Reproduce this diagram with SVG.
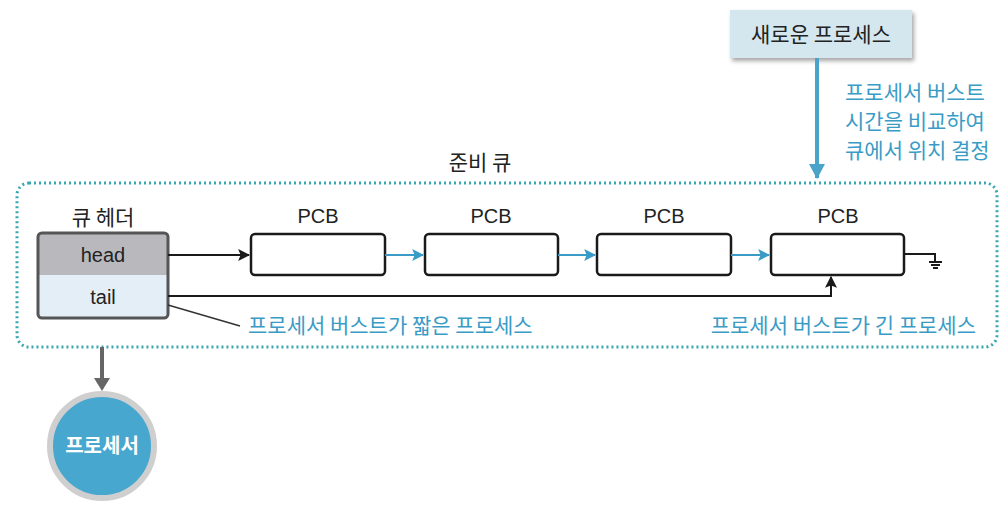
<svg xmlns="http://www.w3.org/2000/svg" width="1008" height="505" viewBox="0 0 1008 505">
<defs>
<style>
.t{font-family:"Noto Sans CJK KR","Noto Sans",sans-serif;}
.lab{font-family:"Liberation Sans","Noto Sans CJK KR",sans-serif;font-size:20px;fill:#222;text-anchor:middle;}
.blue{font-family:"Noto Sans CJK KR",sans-serif;font-size:21px;fill:#3a9cc6;}
.pcb{fill:#fff;stroke:#1a1a1a;stroke-width:2.5;}
.blk{stroke:#1a1a1a;stroke-width:2;fill:none;}
.bl{stroke:#3a9cc6;stroke-width:2;fill:none;}
</style>
<marker id="ab" viewBox="0 0 10 10" refX="9" refY="5" markerWidth="12" markerHeight="12" markerUnits="userSpaceOnUse" orient="auto"><path d="M0,0L10,5L0,10L2,5z" fill="#1a1a1a"/></marker>
<marker id="abl" viewBox="0 0 10 10" refX="9" refY="5" markerWidth="12" markerHeight="12" markerUnits="userSpaceOnUse" orient="auto"><path d="M0,0L10,5L0,10L2,5z" fill="#3a9cc6"/></marker>
<filter id="sh" x="-10%" y="-10%" width="130%" height="140%"><feDropShadow dx="2" dy="3" stdDeviation="2" flood-color="#000" flood-opacity="0.35"/></filter>
</defs>
<rect width="1008" height="505" fill="#fff"/>

<g id="ready-queue">
<rect x="17" y="183" width="980" height="164" rx="12" fill="none" stroke="#3aa7b0" stroke-width="3" stroke-dasharray="2 3"/>
<text class="t" x="480" y="170" font-size="21" fill="#222" text-anchor="middle">준비 큐</text>
</g>

<g id="new-process">
<rect x="730" y="10" width="182" height="48" fill="#d4e7ef" filter="url(#sh)"/>
<text class="t" x="821" y="42" font-size="21" fill="#222" text-anchor="middle">새로운 프로세스</text>
</g>

<g id="compare-label">
<text class="blue" x="845" y="100" font-size="20.5">프로세서 버스트</text>
<text class="blue" x="845" y="129" font-size="20.5">시간을 비교하여</text>
<text class="blue" x="845" y="158" font-size="20.5">큐에서 위치 결정</text>
</g>

<g id="queue-header">
<text class="t" x="103" y="225" font-size="21" fill="#222" text-anchor="middle">큐 헤더</text>
<rect x="38" y="233" width="130" height="85" rx="4" fill="#e3eef6"/>
<path d="M42,233H164a4,4 0 0 1 4,4V275H38V237a4,4 0 0 1 4,-4z" fill="#b9b9bd"/>
<rect x="38" y="233" width="130" height="85" rx="4" fill="none" stroke="#555" stroke-width="3"/>
<text class="lab" x="103" y="262">head</text>
<text class="lab" x="103" y="304">tail</text>
</g>

<g id="pcb1"><text class="lab" x="318" y="223">PCB</text><rect class="pcb" x="251" y="234" width="134" height="41" rx="4"/></g>
<g id="pcb2"><text class="lab" x="491" y="223">PCB</text><rect class="pcb" x="425" y="234" width="133" height="41" rx="4"/></g>
<g id="pcb3"><text class="lab" x="664" y="223">PCB</text><rect class="pcb" x="597" y="234" width="134" height="41" rx="4"/></g>
<g id="pcb4"><text class="lab" x="838" y="223">PCB</text><rect class="pcb" x="771" y="234" width="133" height="41" rx="4"/></g>

<g id="processor">
<circle cx="102" cy="446" r="52" fill="#47a7cf" stroke="#cfcfcf" stroke-width="6"/>
<text class="t" x="102" y="453" font-size="20" font-weight="bold" fill="#fff" text-anchor="middle">프로세서</text>
</g>

<g id="labels">
<text class="blue" x="248" y="333">프로세서 버스트가 짧은 프로세스</text>
<text class="blue" x="976" y="333" text-anchor="end">프로세서 버스트가 긴 프로세스</text>
</g>

<g id="connectors">
<line x1="817" y1="58" x2="817" y2="178" stroke="#4aa3c8" stroke-width="4"/>
<path d="M809,164L825,164L817,179z" fill="#4aa3c8"/>
<line class="blk" x1="168" y1="255" x2="249" y2="255" marker-end="url(#ab)"/>
<line class="bl" x1="385" y1="255" x2="423" y2="255" marker-end="url(#abl)"/>
<line class="bl" x1="558" y1="255" x2="595" y2="255" marker-end="url(#abl)"/>
<line class="bl" x1="731" y1="255" x2="769" y2="255" marker-end="url(#abl)"/>
<path class="blk" d="M168,296H831V277" marker-end="url(#ab)"/>
<path class="blk" d="M904,254H935V262M929,262H942M931,265H940M933,268H938" stroke-width="1.5"/>
<line x1="168" y1="305" x2="240" y2="326" stroke="#333" stroke-width="1.5"/>
<line x1="102" y1="347" x2="102" y2="380" stroke="#666" stroke-width="4"/>
<path d="M94,378L110,378L102,391z" fill="#666"/>
</g>
</svg>
